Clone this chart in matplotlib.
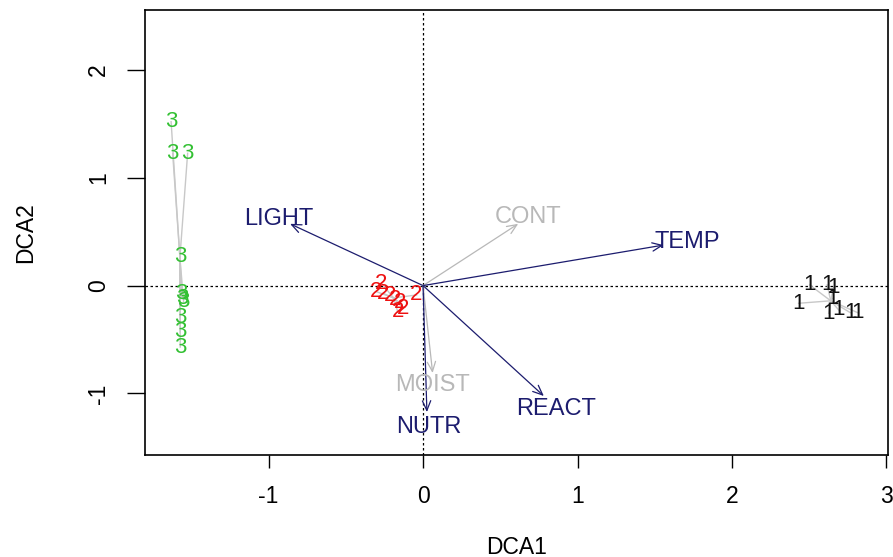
import matplotlib
matplotlib.use("Agg")
import matplotlib.pyplot as plt
import numpy as np

plt.rcParams['font.family'] = ['Liberation Sans', 'DejaVu Sans']

# Site scores (DCA1, DCA2) by cluster group
g1_x = [2.503, 2.616, 2.658, 2.431, 2.648, 2.626, 2.691, 2.766, 2.814]
g1_y = [0.006, 0.006, -0.013, -0.164, -0.118, -0.257, -0.226, -0.251, -0.251]
g2_x = [-0.269, -0.302, -0.259, -0.216, -0.183, -0.151, -0.129, -0.042, -0.164]
g2_y = [0.021, -0.056, -0.071, -0.096, -0.127, -0.159, -0.211, -0.087, -0.242]
g3_x = [-1.631, -1.621, -1.524, -1.572, -1.566, -1.560, -1.550, -1.572, -1.572, -1.572]
g3_y = [1.52, 1.227, 1.227, 0.268, -0.07, -0.12, -0.15, -0.30, -0.43, -0.57]
group_labels = ["1", "2", "3"]
group_colors = ["#111111", "#ee1111", "#33c033"]

# Environmental vectors (envfit)
env_names = ["LIGHT", "CONT", "TEMP", "MOIST", "NUTR", "REACT"]
env_x = [-0.861, 0.616, 1.557, 0.062, 0.025, 0.782]
env_y = [0.573, 0.573, 0.376, -0.811, -1.173, -1.024]
env_lab_x = [-0.935, 0.679, 1.710, 0.063, 0.037, 0.861]
env_lab_y = [0.622, 0.636, 0.404, -0.922, -1.312, -1.145]
env_signif = [True, False, True, False, True, True]

navy = "#1c1c6e"
grey = "#b8b8b8"

fig = plt.figure(figsize=(8.93, 5.57), dpi=100)
ax = fig.add_axes([145/893, 1-455/557, (888-145)/893, (455-10)/557])
ax.set_xlim(-1.80, 3.01)
ax.set_ylim(-1.571, 2.556)

ax.axhline(0, color="black", lw=0.9, ls=(0, (2, 2)), zorder=1)
ax.axvline(0, color="black", lw=0.9, ls=(0, (2, 2)), zorder=1)

groups = [(g1_x, g1_y), (g2_x, g2_y), (g3_x, g3_y)]
for (gx, gy), lab, col in zip(groups, group_labels, group_colors):
    cx, cy = np.mean(gx), np.mean(gy)
    for xx, yy in zip(gx, gy):
        ax.plot([cx, xx], [cy, yy], color="#c8c8c8", lw=1.0, zorder=2)
    for xx, yy in zip(gx, gy):
        ax.text(xx, yy, lab, color=col, fontsize=16, ha="center", va="center", zorder=3)

for name, ex, ey, lx, ly, sig in zip(env_names, env_x, env_y, env_lab_x, env_lab_y, env_signif):
    col = navy if sig else grey
    ax.annotate("", xy=(ex, ey), xytext=(0, 0),
                arrowprops=dict(arrowstyle="->,head_length=0.7,head_width=0.3",
                                color=col, lw=0.9, shrinkA=0, shrinkB=0), zorder=4)
    ax.text(lx, ly, name, color=col, fontsize=17, ha="center", va="center", zorder=5)

ax.set_xticks([-1, 0, 1, 2, 3])
ax.set_yticks([-1, 0, 1, 2])
ax.set_xticklabels(["-1", "0", "1", "2", "3"])
ax.set_yticklabels(["-1", "0", "1", "2"], rotation=90, va="center")
ax.tick_params(axis="x", length=9.5, width=1.0, pad=12, labelsize=16.5)
ax.tick_params(axis="y", length=13, width=1.0, pad=12, labelsize=16.5)
for s in ax.spines.values():
    s.set_linewidth(1.2)

ax.set_xlabel("DCA1", fontsize=16.5, labelpad=20)
ax.set_ylabel("DCA2", fontsize=16.5, labelpad=36)

fig.savefig("out.png", dpi=100)
